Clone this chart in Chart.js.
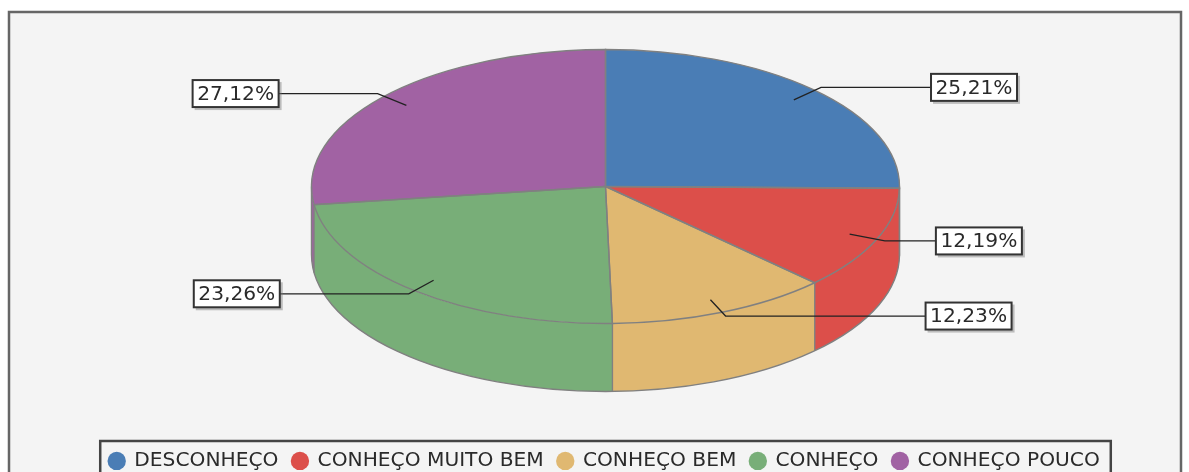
<!DOCTYPE html>
<html>
<head>
<meta charset="utf-8">
<script src="https://cdn.jsdelivr.net/npm/chart.js@4/dist/chart.umd.min.js"></script>
<style>
html, body { margin: 0; padding: 0; background: #fff; overflow: hidden; height: 472px; }
canvas { display: block; filter: blur(0.5px); }
</style>
</head>
<body>
<canvas id="myChart" width="1189" height="481"></canvas>
<script>
let categorias = ['DESCONHEÇO', 'CONHEÇO MUITO BEM', 'CONHEÇO BEM', 'CONHEÇO', 'CONHEÇO POUCO'];
let valores = [25.21, 12.19, 12.23, 23.26, 27.12];
let cores = ['#4a7db5', '#dc4f4a', '#e0b871', '#78ae78', '#a162a3'];
let rotulos = valores.map(v => v.toFixed(2).replace('.', ',') + '%');

const fonte = '"DejaVu Sans"';

// fundo e moldura
const moldura = {
    id: 'moldura',
    beforeDraw(chart) {
        let ctx = chart.ctx;
        ctx.save();
        ctx.fillStyle = '#f4f4f4';
        ctx.fillRect(9, 12, 1172, 480);
        ctx.strokeStyle = '#666';
        ctx.lineWidth = 2.5;
        ctx.strokeRect(9, 12, 1172, 480);
        ctx.restore();
    }
};

// pizza 3D: arcos do Chart.js achatados, com a parede da frente preenchida por baixo
const pizza3d = {
    id: 'pizza3d',
    beforeDatasetsDraw(chart, args, opts) {
        let ctx = chart.ctx;
        let arcos = chart.getDatasetMeta(0).data;
        let rx = arcos[0].outerRadius;
        let ry = rx * opts.achatamento;
        let cx = opts.cx, cy = opts.cy, prof = opts.profundidade;

        // parede
        arcos.forEach((a, i) => {
            let ini = Math.max(a.startAngle, 0), fim = Math.min(a.endAngle, Math.PI);
            if (ini >= fim) return;
            ctx.fillStyle = cores[i];
            ctx.beginPath();
            ctx.ellipse(cx, cy, rx, ry, 0, ini, fim);
            ctx.ellipse(cx, cy + prof, rx, ry, 0, fim, ini, true);
            ctx.closePath();
            ctx.fill();
        });

        // topo
        arcos.forEach(a => {
            ctx.save();
            ctx.translate(cx, cy);
            ctx.scale(1, opts.achatamento);
            ctx.translate(-a.x, -a.y);
            a.draw(ctx);
            ctx.restore();
        });

        ctx.save();
        ctx.strokeStyle = opts.contorno;
        ctx.lineWidth = 1.4;

        ctx.beginPath();
        ctx.moveTo(cx - rx, cy);
        ctx.lineTo(cx - rx, cy + prof);
        ctx.ellipse(cx, cy + prof, rx, ry, 0, Math.PI, 0, true);
        ctx.lineTo(cx + rx, cy);
        ctx.stroke();

        // fatias
        arcos.forEach(a => {
            ctx.beginPath();
            ctx.moveTo(cx, cy);
            ctx.ellipse(cx, cy, rx, ry, 0, a.startAngle, a.endAngle);
            ctx.closePath();
            ctx.stroke();
            let s = a.endAngle;
            if (Math.sin(s) > 0) {
                let x = cx + rx * Math.cos(s), y = cy + ry * Math.sin(s);
                ctx.beginPath();
                ctx.moveTo(x, y);
                ctx.lineTo(x, y + prof);
                ctx.stroke();
            }
        });
        ctx.restore();
        return false;
    },
    afterDraw(chart) {
        let opts = chart.options.plugins.pizza3d;
        let ctx = chart.ctx;
        let arcos = chart.getDatasetMeta(0).data;
        let rx = arcos[0].outerRadius;
        let ry = rx * opts.achatamento;
        let cx = opts.cx, cy = opts.cy;

        ctx.save();
        ctx.font = opts.fonte;
        arcos.forEach((a, i) => {
            let meio = (a.startAngle + a.endAngle) / 2;
            let c = Math.cos(meio), s = Math.sin(meio);
            let x0 = cx + rx * 0.9 * c, y0 = cy + ry * 0.9 * s;
            let x1 = cx + rx * 1.03 * c, y1 = cy + ry * 1.03 * s;
            let lado = c > 0 ? 1 : -1;
            let x2 = x1 + lado * opts.guia[i];

            ctx.strokeStyle = '#222';
            ctx.lineWidth = 1.3;
            ctx.beginPath();
            ctx.moveTo(x0, y0);
            ctx.lineTo(x1, y1);
            ctx.lineTo(x2, y1);
            ctx.stroke();

            let w = 86, h = 27;
            let bx = lado > 0 ? x2 : x2 - w;
            let by = y1 - h / 2;
            ctx.fillStyle = 'rgba(120,120,120,0.45)';
            ctx.fillRect(bx + 2, by + 2, w + 1, h + 1);
            ctx.fillStyle = '#fff';
            ctx.fillRect(bx, by, w, h);
            ctx.strokeStyle = '#333';
            ctx.lineWidth = 2;
            ctx.strokeRect(bx, by, w, h);

            ctx.fillStyle = '#2a2a2a';
            ctx.textAlign = 'center';
            ctx.textBaseline = 'middle';
            ctx.fillText(rotulos[i], bx + w / 2, by + h / 2 + 1);
        });

        // caixa da legenda
        let caixas = chart.legend.legendHitBoxes;
        let ult = caixas[caixas.length - 1];
        ctx.strokeStyle = '#444';
        ctx.lineWidth = 2.5;
        let esq = caixas[0].left - 9;
        ctx.strokeRect(esq, 441, ult.left + ult.width + 11 - esq, 60);
        ctx.restore();
    }
};

let ctx = document.getElementById('myChart').getContext('2d');
let myChart = new Chart(ctx, {
    type: 'pie',
    data: {
        labels: categorias,
        datasets: [{
            data: valores,
            backgroundColor: cores,
            borderWidth: 0
        }]
    },
    plugins: [moldura, pizza3d],
    options: {
        responsive: false,
        animation: false,
        radius: 294,
        layout: { padding: { left: 20 } },
        plugins: {
            tooltip: { enabled: false },
            legend: {
                position: 'bottom',
                labels: {
                    usePointStyle: true,
                    boxWidth: 15,
                    boxHeight: 13,
                    padding: 14,
                    color: '#2a2a2a',
                    font: { family: fonte, size: 20.2 }
                }
            },
            pizza3d: {
                cx: 605.5,
                cy: 186.5,
                achatamento: 0.466,
                profundidade: 68,
                contorno: '#808080',
                fonte: '20.2px ' + fonte,
                guia: [110, 51, 200, 129, 99]
            }
        }
    }
});
</script>
</body>
</html>
